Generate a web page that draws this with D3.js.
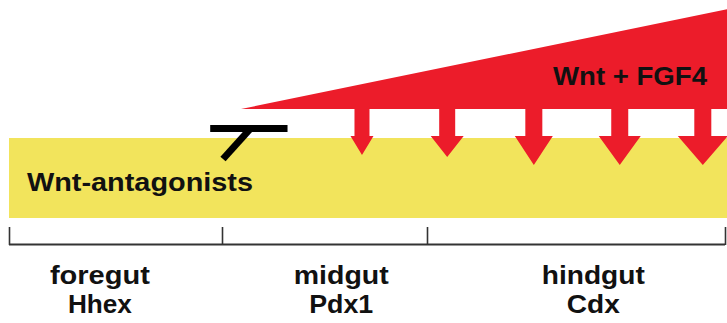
<!DOCTYPE html>
<html>
<head>
<meta charset="utf-8">
<script src="https://cdn.jsdelivr.net/npm/d3@7"></script>
<style>
  body { margin: 0; background: #fff; }
  text { font-family: "Liberation Sans", Arial, sans-serif; font-weight: bold; fill: #111; }
</style>
</head>
<body>
<div id="chart"></div>
<script>
// gut regions along the anterior-posterior axis (0 = anterior, 100 = posterior)
var regions = ["foregut", "midgut", "hindgut"];
var markers = ["Hhex", "Pdx1", "Cdx"];
var boundaries = [0, 29.8, 58.4, 100];
var labelCenters = [12.7, 46.4, 81.6];

// Wnt + FGF4 gradient (position, relative strength)
var gradientPos = [32.4, 100.5];
var gradientStrength = [0, 1];

// downward signalling arrows
var arrowPos = [49.3, 61.2, 73.3, 85.3, 96.9];
var arrowHead = [23, 33, 38, 42, 50];   // head width
var arrowDepth = [155, 157, 165, 165, 165]; // tip depth (px)
var arrowShaft = [15, 16, 17, 17, 17];

// Wnt-antagonist inhibition bar
var inhibitBar = [28.1, 38.9];

var width = 727, height = 323;

var svg = d3.select("#chart").append("svg")
    .attr("width", width)
    .attr("height", height);

var x = d3.scaleLinear().domain([0, 100]).range([9, 725]);
var y = d3.scaleLinear().domain([0, 1]).range([109, 9]);

var red = "#ec1c2a", yellow = "#f2e45c";

// endoderm band
svg.append("rect")
    .attr("x", x(0)).attr("y", 138)
    .attr("width", width - x(0)).attr("height", 80)
    .attr("fill", yellow);

// gradient triangle
var area = d3.line().x(function(d) { return x(d[0]); }).y(function(d) { return d[1]; });
svg.append("path")
    .attr("d", area([
      [gradientPos[0], y(gradientStrength[0])],
      [gradientPos[1], y(gradientStrength[1])],
      [gradientPos[1], y(0)]
    ]) + "Z")
    .attr("fill", red);

// arrows
arrowPos.forEach(function(p, i) {
  var cx = x(p), hw = arrowHead[i] / 2, sw = arrowShaft[i] / 2;
  var top = y(0) - 1, headTop = 136, tip = arrowDepth[i];
  var pts = [
    [cx - sw, top], [cx + sw, top], [cx + sw, headTop],
    [cx + hw, headTop], [cx, tip], [cx - hw, headTop], [cx - sw, headTop]
  ];
  svg.append("path")
      .attr("d", d3.line()(pts) + "Z")
      .attr("fill", red);
});

svg.append("text")
    .attr("x", 553).attr("y", 85)
    .attr("font-size", 25)
    .attr("textLength", 154).attr("lengthAdjust", "spacingAndGlyphs")
    .text("Wnt + FGF4");

// inhibition symbol
svg.append("line")
    .attr("x1", x(inhibitBar[0])).attr("x2", x(inhibitBar[1]))
    .attr("y1", 128.5).attr("y2", 128.5)
    .attr("stroke", "#000").attr("stroke-width", 7);
svg.append("line")
    .attr("x1", 251).attr("y1", 128)
    .attr("x2", 223).attr("y2", 159)
    .attr("stroke", "#000").attr("stroke-width", 7);

svg.append("text")
    .attr("x", 27).attr("y", 191)
    .attr("font-size", 25)
    .attr("textLength", 226).attr("lengthAdjust", "spacingAndGlyphs")
    .text("Wnt-antagonists");

// region axis
svg.append("line")
    .attr("x1", x(0)).attr("x2", x(100))
    .attr("y1", 244.5).attr("y2", 244.5)
    .attr("stroke", "#333").attr("stroke-width", 2);
svg.selectAll(".tick").data(boundaries).enter().append("line")
    .attr("class", "tick")
    .attr("x1", function(d) { return Math.round(x(d)) + 0.5; })
    .attr("x2", function(d) { return Math.round(x(d)) + 0.5; })
    .attr("y1", 227).attr("y2", 245)
    .attr("stroke", "#333").attr("stroke-width", 1.6);

var regionW = [100, 95, 103], markerW = [64, 64, 53];
svg.selectAll(".region").data(regions).enter().append("text")
    .attr("class", "region")
    .attr("x", function(d, i) { return x(labelCenters[i]); })
    .attr("y", 284)
    .attr("text-anchor", "middle")
    .attr("font-size", 25)
    .attr("textLength", function(d, i) { return regionW[i]; })
    .attr("lengthAdjust", "spacingAndGlyphs")
    .text(function(d) { return d; });

svg.selectAll(".marker").data(markers).enter().append("text")
    .attr("class", "marker")
    .attr("x", function(d, i) { return x(labelCenters[i]); })
    .attr("y", 313)
    .attr("text-anchor", "middle")
    .attr("font-size", 25)
    .attr("textLength", function(d, i) { return markerW[i]; })
    .attr("lengthAdjust", "spacingAndGlyphs")
    .text(function(d) { return d; });
</script>
</body>
</html>
